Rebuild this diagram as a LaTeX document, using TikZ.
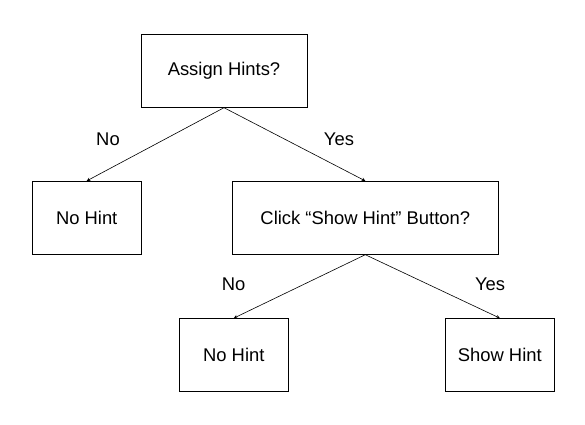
\documentclass[tikz,border=0pt]{standalone}
\usepackage{fontspec}
\setmainfont{Liberation Sans}
\usetikzlibrary{positioning, arrows, arrows.meta, shapes}

\begin{document}
\begin{tikzpicture}[
		x=1pt, y=-1pt,
		font=\fontsize{18.4}{22}\selectfont,
		every box/.style={rectangle, draw, line width=0.8pt, minimum height=73pt, inner sep=0pt},
		every label node/.style={inner sep=0pt},
		>=stealth
	]

	\useasboundingbox (0, 0) rectangle (585, 424);

	\foreach \m/\x/\y/\w/\t in {assign/224/70.8/166/Assign Hints?, nohint-1/86.7/217.8/109/No Hint, click/365.3/217.8/266/Click “Show Hint” Button?, nohint-2/233.8/355/109/No Hint, show/499.8/355/109/Show Hint}
		\node [every box/.try, minimum width=\w pt] (\m) at (\x, \y) {\t};

	\foreach \a/\b in {assign/nohint-1, assign/click, click/nohint-2, click/show}
		\draw [->, line width=0.6pt] (\a.south) -- (\b.north);

	\foreach \l/\x/\y [count=\i] in {No/108/139, Yes/339/139, No/233.7/284, Yes/490/284}
		\node [every label node/.try] (label-\i) at (\x, \y) {\l};
	\end{tikzpicture}
\end{document}
